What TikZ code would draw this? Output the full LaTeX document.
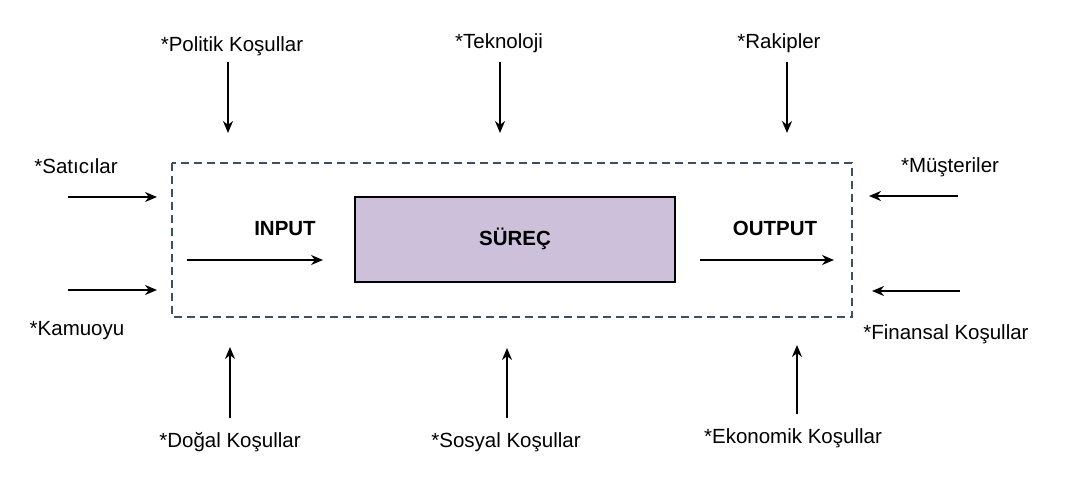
\documentclass[tikz,border=0pt]{standalone}
\usepackage{fontspec}
\setmainfont{Liberation Sans}
\usetikzlibrary{arrows.meta}
\definecolor{frameblue}{HTML}{3D4F63}
\definecolor{processfill}{HTML}{CCC0DB}
\begin{document}
\begin{tikzpicture}[x=1pt,y=-1pt,
  lbl/.style={anchor=base,inner sep=0pt,font=\fontsize{20.5}{24}\selectfont},
  boldlbl/.style={lbl,font=\fontsize{20.5}{24}\selectfont\bfseries},
  flow/.style={line width=2.4pt,-{Stealth[length=12pt,width=10pt]}},
  envframe/.style={draw=frameblue,line width=2.4pt,dash pattern=on 8pt off 5pt},
  processbox/.style={draw=black,line width=2.8pt,fill=processfill}]
\useasboundingbox (0,0) rectangle (1082,497);
\fill[white] (0,0) rectangle (1082,497);

% system boundary and the process in its middle
\draw[envframe] (172,163) rectangle (852,317);
\draw[processbox] (355,197) rectangle (675,282);
\node[boldlbl] (proc) at (515,246) {SÜREÇ};

% input / output flows
\node[boldlbl] (inlbl) at (285,236) {INPUT};
\node[boldlbl] (outlbl) at (775,236) {OUTPUT};
\coordinate (inA) at (187,260);  \coordinate (inB) at (323,260);
\coordinate (outA) at (700,260); \coordinate (outB) at (834,260);
\draw[flow] (inA) -- (inB);
\draw[flow] (outA) -- (outB);

% environmental factors above
\node[lbl] (politik) at (232,52) {*Politik Koşullar};
\node[lbl] (tekno) at (499,49) {*Teknoloji};
\node[lbl] (rakip) at (779,49) {*Rakipler};
\coordinate (p1) at (228,62);  \coordinate (p2) at (228,133);
\coordinate (t1) at (500,62);  \coordinate (t2) at (500,133);
\coordinate (r1) at (787,62);  \coordinate (r2) at (787,133);
\draw[flow] (p1) -- (p2);
\draw[flow] (t1) -- (t2);
\draw[flow] (r1) -- (r2);

% environmental factors on the left
\node[lbl] (satici) at (76,174) {*Satıcılar};
\node[lbl] (kamu) at (77,335) {*Kamuoyu};
\coordinate (s1) at (68,197);  \coordinate (s2) at (157,197);
\coordinate (k1) at (68,290);  \coordinate (k2) at (157,290);
\draw[flow] (s1) -- (s2);
\draw[flow] (k1) -- (k2);

% environmental factors on the right
\node[lbl] (musteri) at (950,173) {*Müşteriler};
\node[lbl] (finans) at (946,339) {*Finansal Koşullar};
\coordinate (m1) at (958,196); \coordinate (m2) at (869,196);
\coordinate (f1) at (960,291); \coordinate (f2) at (872,291);
\draw[flow] (m1) -- (m2);
\draw[flow] (f1) -- (f2);

% environmental factors below
\node[lbl] (dogal) at (230,447) {*Doğal Koşullar};
\node[lbl] (sosyal) at (506,447) {*Sosyal Koşullar};
\node[lbl] (ekonomi) at (793,443) {*Ekonomik Koşullar};
\coordinate (d1) at (230,418); \coordinate (d2) at (230,347);
\coordinate (o1) at (507,418); \coordinate (o2) at (507,348);
\coordinate (e1) at (797,414); \coordinate (e2) at (797,345);
\draw[flow] (d1) -- (d2);
\draw[flow] (o1) -- (o2);
\draw[flow] (e1) -- (e2);
\end{tikzpicture}
\end{document}
